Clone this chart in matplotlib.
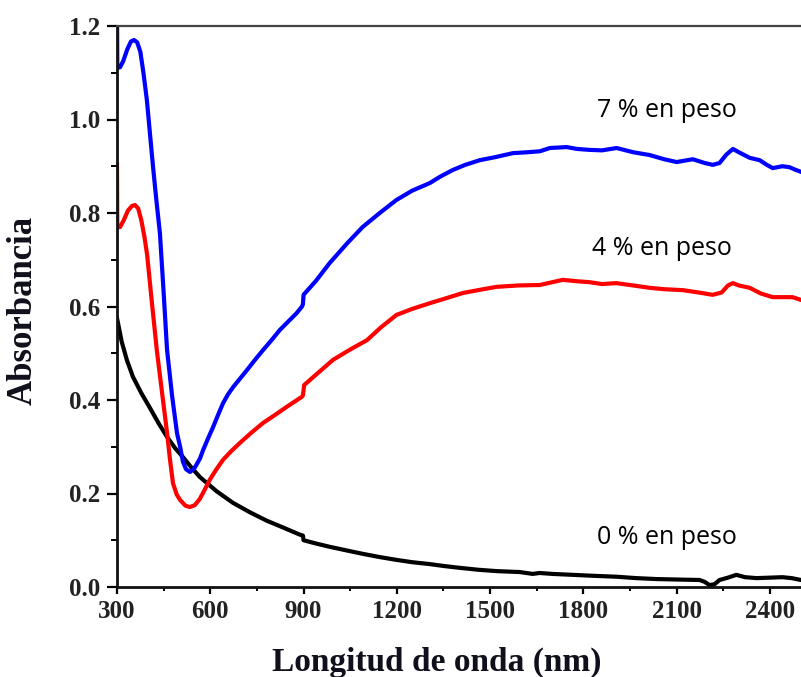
import matplotlib
matplotlib.use("Agg")
import matplotlib.pyplot as plt
from matplotlib.ticker import MultipleLocator, FixedLocator

# ---- data ----
x_blue = [300, 301, 310, 320, 333, 345, 355, 365, 375, 385, 396, 406, 416, 427, 438, 450, 461,
          477, 493, 503, 512, 522, 535, 550, 567, 577, 593, 609, 625, 641, 657, 674, 696, 718,
          744, 770, 797, 824, 851, 878, 895, 898, 900, 940, 984, 1040, 1090, 1145, 1199, 1250,
          1306, 1340, 1380, 1420, 1467, 1520, 1573, 1620, 1660, 1692, 1746, 1780, 1820, 1860,
          1907, 1960, 2013, 2060, 2100, 2152, 2190, 2216, 2238, 2260, 2281, 2300, 2335, 2367,
          2390, 2409, 2440, 2463, 2480, 2500]
y_blue = [1.25, 1.11, 1.112, 1.125, 1.15, 1.167, 1.17, 1.165, 1.145, 1.1, 1.042, 0.97, 0.898,
          0.825, 0.757, 0.63, 0.507, 0.41, 0.329, 0.3, 0.268, 0.252, 0.246, 0.255, 0.275, 0.293,
          0.318, 0.342, 0.368, 0.393, 0.412, 0.428, 0.446, 0.464, 0.486, 0.507, 0.528, 0.55,
          0.568, 0.586, 0.6, 0.605, 0.625, 0.655, 0.693, 0.735, 0.77, 0.8, 0.828, 0.848, 0.864,
          0.878, 0.892, 0.903, 0.913, 0.92, 0.928, 0.93, 0.932, 0.939, 0.941, 0.937, 0.935,
          0.934, 0.939, 0.93, 0.924, 0.915, 0.909, 0.915, 0.907, 0.903, 0.907, 0.925, 0.937,
          0.93, 0.918, 0.913, 0.903, 0.896, 0.9, 0.898, 0.893, 0.888]

x_red = [300, 301, 310, 322, 335, 348, 358, 368, 378, 388, 397, 412, 428, 445, 461, 470, 480,
         492, 503, 520, 534, 550, 566, 582, 598, 620, 641, 668, 695, 732, 770, 808, 845, 870,
         895, 898, 902, 950, 995, 1050, 1104, 1150, 1199, 1250, 1306, 1360, 1413, 1470, 1520,
         1590, 1660, 1700, 1734, 1780, 1820, 1860, 1906, 1960, 2013, 2060, 2120, 2170, 2216,
         2245, 2265, 2281, 2300, 2335, 2370, 2409, 2440, 2473, 2500]
y_red = [0.903, 0.77, 0.77, 0.785, 0.805, 0.815, 0.817, 0.81, 0.785, 0.75, 0.71, 0.61, 0.507,
         0.415, 0.33, 0.275, 0.222, 0.198, 0.186, 0.174, 0.171, 0.175, 0.188, 0.208, 0.229,
         0.252, 0.272, 0.291, 0.308, 0.33, 0.351, 0.368, 0.385, 0.396, 0.407, 0.41, 0.432,
         0.46, 0.486, 0.508, 0.528, 0.556, 0.582, 0.595, 0.607, 0.618, 0.629, 0.636, 0.642,
         0.645, 0.646, 0.652, 0.657, 0.654, 0.652, 0.648, 0.65, 0.645, 0.64, 0.637, 0.635,
         0.63, 0.625, 0.63, 0.645, 0.65, 0.645, 0.64, 0.628, 0.62, 0.62, 0.62, 0.614]

x_black = [300, 304, 315, 332, 351, 378, 406, 434, 461, 487, 512, 540, 567, 620, 673, 727, 781,
           835, 888, 898, 900, 940, 984, 1040, 1090, 1145, 1199, 1250, 1306, 1350, 1402, 1460,
           1520, 1595, 1637, 1659, 1700, 1766, 1830, 1906, 1970, 2035, 2100, 2174, 2190, 2206,
           2222, 2238, 2265, 2292, 2320, 2357, 2400, 2440, 2470, 2500]
y_black = [0.575, 0.562, 0.525, 0.485, 0.45, 0.415, 0.383, 0.35, 0.321, 0.297, 0.278, 0.255,
           0.235, 0.205, 0.18, 0.16, 0.142, 0.127, 0.112, 0.11, 0.10, 0.093, 0.086, 0.078,
           0.071, 0.064, 0.058, 0.053, 0.049, 0.045, 0.041, 0.037, 0.034, 0.032, 0.028, 0.03,
           0.028, 0.026, 0.024, 0.022, 0.019, 0.017, 0.016, 0.015, 0.011, 0.004, 0.006, 0.015,
           0.02, 0.026, 0.021, 0.019, 0.02, 0.021, 0.019, 0.015]

labels = ["7 % en peso", "4 % en peso", "0 % en peso"]
label_x = [2070, 2054, 2070]
label_y = [1.02, 0.725, 0.105]

xticks = [300, 600, 900, 1200, 1500, 1800, 2100, 2400]
yticks = [0.0, 0.2, 0.4, 0.6, 0.8, 1.0, 1.2]

# ---- figure ----
fig = plt.figure(figsize=(8.01, 6.77), dpi=100)
ax = fig.add_axes([117 / 801, 1 - 587 / 677, 1 - 117 / 801, (587 - 26) / 677])

lw = 3.0
ax.plot(x_black, y_black, color="black", lw=lw, solid_joinstyle="round")
ax.plot(x_red, y_red, color="#ff0000", lw=lw, solid_joinstyle="round")
ax.plot(x_blue, y_blue, color="#0000ff", lw=lw, solid_joinstyle="round")

ax.set_xlim(300, 2500)
ax.set_ylim(0, 1.2)

ax.xaxis.set_major_locator(FixedLocator(xticks))
ax.xaxis.set_minor_locator(MultipleLocator(150))
ax.yaxis.set_major_locator(FixedLocator(yticks))
ax.yaxis.set_minor_locator(MultipleLocator(0.1))
ax.set_yticklabels([f"{v:.1f}" for v in yticks])
ax.set_xticklabels([str(v) for v in xticks])

for lab in ax.get_xticklabels() + ax.get_yticklabels():
    lab.set_fontfamily("Liberation Serif")
    lab.set_fontweight("bold")
    lab.set_fontsize(18)
    lab.set_color("#222222")

ax.tick_params(axis="y", which="major", direction="out", length=7, width=1.6, pad=5)
ax.tick_params(axis="y", which="minor", direction="out", length=4, width=1.4)
ax.tick_params(axis="x", which="major", direction="out", length=5, width=1.6, pad=4)
ax.tick_params(axis="x", which="minor", direction="out", length=3, width=1.4)

for s in ["left", "bottom"]:
    ax.spines[s].set_linewidth(2.0)
    ax.spines[s].set_color("#111111")
ax.spines["top"].set_linewidth(1.6)
ax.spines["top"].set_color("#444444")
ax.spines["right"].set_visible(False)

for t, xx, yy in zip(labels, label_x, label_y):
    ax.text(xx, yy, t, ha="center", va="center", fontsize=18, family="Open Sans",
            color="black")

fig.text(437 / 801, 1 - 662 / 677, "Longitud de onda (nm)", ha="center", va="center",
         fontsize=24, family="Liberation Serif", weight="bold", color="#10101c")
fig.text(23 / 801, 1 - 310 / 677, "Absorbancia", ha="center", va="center", rotation=90,
         fontsize=25, family="Liberation Serif", weight="bold", color="#10101c")

fig.savefig("out.png", dpi=100)
